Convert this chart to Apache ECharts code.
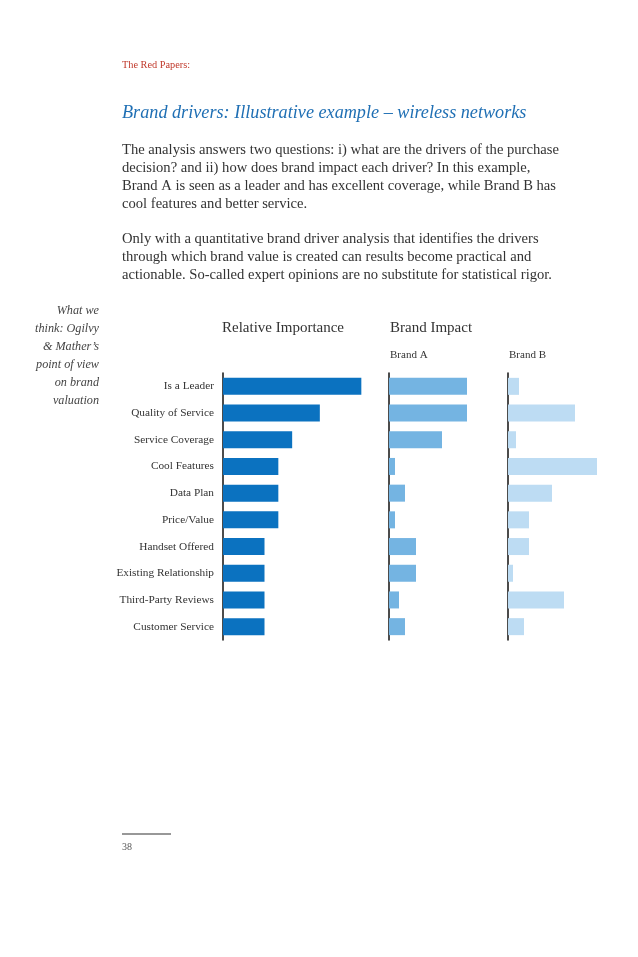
<!DOCTYPE html>
<html><head><meta charset="utf-8">
<script src="https://cdn.jsdelivr.net/npm/echarts@6/dist/echarts.min.js"></script>
<style>html,body{margin:0;padding:0;background:#fff}#c{width:638px;height:957px}</style>
</head><body><div id="c"></div>
<script>
const categories = ["Is a Leader","Quality of Service","Service Coverage","Cool Features","Data Plan","Price/Value","Handset Offered","Existing Relationship","Third-Party Reviews","Customer Service"];
const relativeImportance = [10,7,5,4,4,4,3,3,3,3];
const brandA = [78,78,53,6,16,6,27,27,10,16];
const brandB = [11,67,8,89,44,21,21,5,56,16];
const para1 = ["The analysis answers two questions: i) what are the drivers of the purchase","decision? and ii) how does brand impact each driver? In this example,","Brand A is seen as a leader and has excellent coverage, while Brand B has","cool features and better service."];
const para2 = ["Only with a quantitative brand driver analysis that identifies the drivers","through which brand value is created can results become practical and","actionable. So-called expert opinions are no substitute for statistical rigor."];
const sideNote = ["What we","think: Ogilvy","& Mather’s","point of view","on brand","valuation"];

const serif = '"Liberation Serif","DejaVu Serif",serif';
const chart = echarts.init(document.getElementById('c'), null, {renderer:'canvas'});
const gTop = 373, gH = 267;
const grids = [
  {left:223, top:gTop, width:166, height:gH},
  {left:389, top:gTop, width:100, height:gH},
  {left:508, top:gTop, width:100, height:gH}
];
const maxes = [12,100,100];
const colors = ['#0b72c0','#74b4e2','#bddcf3'];
const dataSets = [relativeImportance, brandA, brandB];

const graphic = [];
function txt(x,y,text,size,color,opts){
  graphic.push(Object.assign({type:'text',x:x,y:y,style:Object.assign({text:text,fontFamily:serif,fontSize:size,fill:color,textVerticalAlign:'middle'},opts||{})}));
}
txt(122,65,'The Red Papers:',10.3,'#c0392b');
txt(122,113,'Brand drivers: Illustrative example – wireless networks',18.2,'#1f6fb4',{fontStyle:'italic'});
para1.forEach((l,i)=>txt(122,150+i*18,l,14.6,'#333'));
para2.forEach((l,i)=>txt(122,239+i*18,l,14.6,'#333'));
sideNote.forEach((l,i)=>txt(99,311+i*18,l,12.2,'#444',{fontStyle:'italic',textAlign:'right'}));
txt(222,328,'Relative Importance',15,'#333');
txt(390,328,'Brand Impact',15,'#333');
txt(390,355,'Brand A',11,'#333');
txt(509,355,'Brand B',11,'#333');
graphic.push({type:'line',shape:{x1:122,y1:834,x2:171,y2:834},style:{stroke:'#333',lineWidth:1.2}});
txt(122,847,'38',10,'#555');

chart.setOption({
  animation:false,
  graphic: graphic,
  grid: grids,
  xAxis: grids.map((g,i)=>({type:'value',gridIndex:i,min:0,max:maxes[i],show:false})),
  yAxis: grids.map((g,i)=>({type:'category',gridIndex:i,data:categories,inverse:true,
    axisLine:{show:true,lineStyle:{color:'#111',width:1.5}},axisTick:{show:false},
    axisLabel:{show:i===0,fontFamily:serif,fontSize:11.3,color:'#333',margin:9}})),
  series: dataSets.map((d,i)=>({type:'bar',xAxisIndex:i,yAxisIndex:i,data:d,barWidth:17,
    itemStyle:{color:colors[i]},z:1}))
});
</script></body></html>
